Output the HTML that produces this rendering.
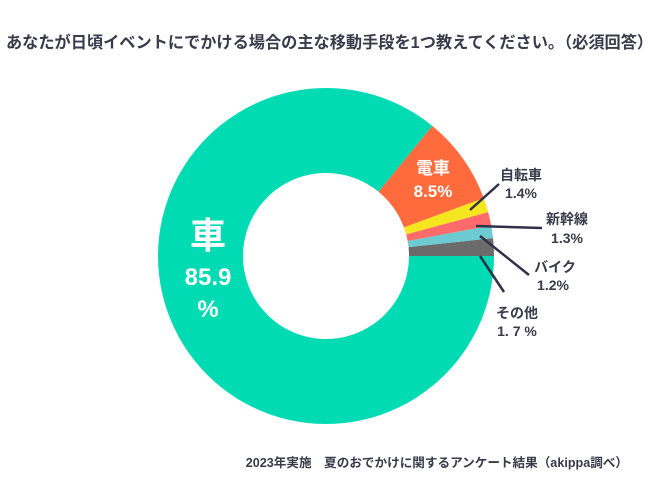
<!DOCTYPE html>
<html><head><meta charset="utf-8"><style>
body{margin:0;background:#fff;}
svg text{font-family:"Liberation Sans","Noto Sans CJK JP",sans-serif;font-weight:bold;}
</style></head><body>
<svg width="650" height="488" xmlns="http://www.w3.org/2000/svg">
<text x="6" y="48" font-size="16.2" fill="#3a3a4a">あなたが日頃イベントにでかける場合の主な移動手段を1つ教えてください。（必須回答）</text>
<g id="slices"></g>
<g id="labels"></g>
<text x="628" y="467" font-size="12.6" fill="#3a3a4a" text-anchor="end">2023年実施　夏のおでかけに関するアンケート結果（akippa調べ）</text>
</svg>
<script>
const categories=["その他","バイク","新幹線","自転車","電車","車"];
const values=[1.7,1.2,1.3,1.4,8.5,85.9];
const valueLabels=["1. 7 %","1.2%","1.3%","1.4%","8.5%","85.9"];
const colors=["#6b6b6b","#6ccbd0","#ff6b6b","#f5e620","#ff6b3d","#00dbb4"];
const cx=326,cy=256,R=168,r=83;
const ns="http://www.w3.org/2000/svg";
const g=document.getElementById('slices');
const total=values.reduce((a,b)=>a+b,0);
let a0=0;
function pt(rad,ang){return [cx+rad*Math.cos(ang),cy-rad*Math.sin(ang)];}
values.forEach((v,i)=>{
  const a1=a0+v/total*2*Math.PI;
  const large=(a1-a0)>Math.PI?1:0;
  const p1=pt(R,a0),p2=pt(R,a1),p3=pt(r,a1),p4=pt(r,a0);
  const p=document.createElementNS(ns,'path');
  p.setAttribute('d',`M${p1}A${R},${R} 0 ${large} 0 ${p2}L${p3}A${r},${r} 0 ${large} 1 ${p4}Z`);
  p.setAttribute('fill',colors[i]);
  
  
  g.appendChild(p);
  a0=a1;
});
const L=document.getElementById('labels');
function txt(x,y,s,size,fill,name){
  const t=document.createElementNS(ns,'text');
  t.setAttribute('x',x);t.setAttribute('y',y);t.setAttribute('font-size',size);
  t.setAttribute('fill',fill);t.setAttribute('text-anchor','middle');t.textContent=s;
  
  
  L.appendChild(t);
}
function line(x1,y1,x2,y2,name){
  const l=document.createElementNS(ns,'line');
  l.setAttribute('x1',x1);l.setAttribute('y1',y1);l.setAttribute('x2',x2);l.setAttribute('y2',y2);
  l.setAttribute('stroke','#2e3148');l.setAttribute('stroke-width','2.5');
  
  
  L.appendChild(l);
}
const dk="#3a3a4a";
txt(208,248,categories[5],36,"#fff","label-car");
txt(208,285,valueLabels[5],24,"#fff","value-car");
txt(208,317,"%",24,"#fff","value-car-percent");
txt(433,174,categories[4],17,"#fff","label-train");
txt(433,197,valueLabels[4],17,"#fff","value-train");
line(470,210,499,184,"leader-bicycle");
txt(521,180,categories[3],14,dk,"label-bicycle");
txt(521,198,valueLabels[3],14,dk,"value-bicycle");
line(476,226,542,228,"leader-shinkansen");
txt(567,224,categories[2],14,dk,"label-shinkansen");
txt(567,243,valueLabels[2],14,dk,"value-shinkansen");
line(480,236,529,275,"leader-bike");
txt(555,272,categories[1],14,dk,"label-bike");
txt(553,290,valueLabels[1],14,dk,"value-bike");
line(480,256,504,292,"leader-other");
txt(517,318,categories[0],14,dk,"label-other");
txt(517,336,valueLabels[0],14,dk,"value-other");
</script>
</body></html>
